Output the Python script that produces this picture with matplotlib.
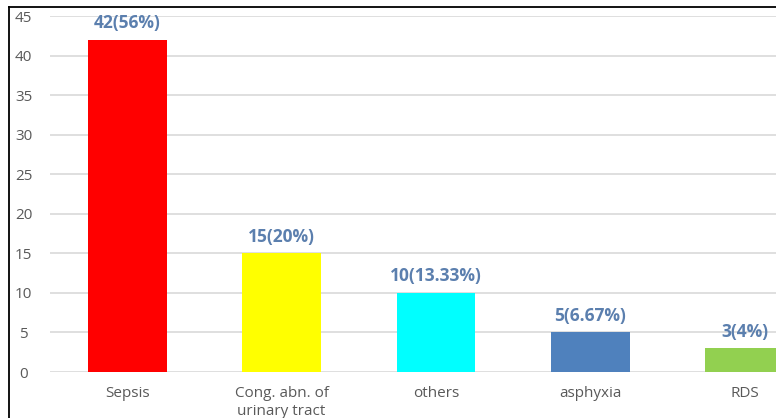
import matplotlib.pyplot as plt
from matplotlib.lines import Line2D

# causes of death, counts and share of total
causes = ["Sepsis", "Cong. abn. of\nurinary tract", "others", "asphyxia", "RDS"]
counts = [42, 15, 10, 5, 3]
shares = ["56%", "20%", "13.33%", "6.67%", "4%"]
bar_colors = ["#ff0000", "#ffff00", "#00ffff", "#4f81bd", "#92d050"]
y_ticks = [0, 5, 10, 15, 20, 25, 30, 35, 40, 45]

plt.rcParams["font.family"] = ["Open Sans", "DejaVu Sans"]

fig = plt.figure(figsize=(7.76, 4.18), dpi=100)
ax = fig.add_axes([50 / 776, 46 / 418, 772 / 776, 356 / 418])

x = range(len(causes))
ax.bar(x, counts, width=0.51, color=bar_colors, zorder=3)

for i, (c, s) in enumerate(zip(counts, shares)):
    ax.annotate(f"{c}({s})", (i, c), xytext=(0, 12), textcoords="offset points",
                ha="center", va="center", fontsize=12.5, fontweight="bold",
                color="#5b7fae")

ax.set_xlim(-0.5, len(causes) - 0.5)
ax.set_ylim(0, 45)
ax.set_yticks(y_ticks)
ax.set_xticks(list(x))
ax.set_xticklabels(causes)

ax.grid(axis="y", color="#d9d9d9", linewidth=1.2, zorder=0)
for side in ["top", "right", "left", "bottom"]:
    ax.spines[side].set_visible(False)

ax.tick_params(axis="y", length=0, pad=19, labelsize=11, labelcolor="#595959")
ax.tick_params(axis="x", length=0, pad=10, labelsize=11, labelcolor="#595959")
for lbl in ax.get_yticklabels():
    lbl.set_horizontalalignment("center")
for lbl in ax.get_xticklabels():
    lbl.set_verticalalignment("top")
    lbl.set_linespacing(1.3)

# frame around the figure area
fig.add_artist(Line2D([9 / 776, 1.0], [1 - 7 / 418, 1 - 7 / 418],
                      color="black", linewidth=1.3, transform=fig.transFigure))
fig.add_artist(Line2D([9 / 776, 9 / 776], [0, 1 - 7 / 418],
                      color="black", linewidth=1.3, transform=fig.transFigure))

fig.savefig("out.png", dpi=100)
